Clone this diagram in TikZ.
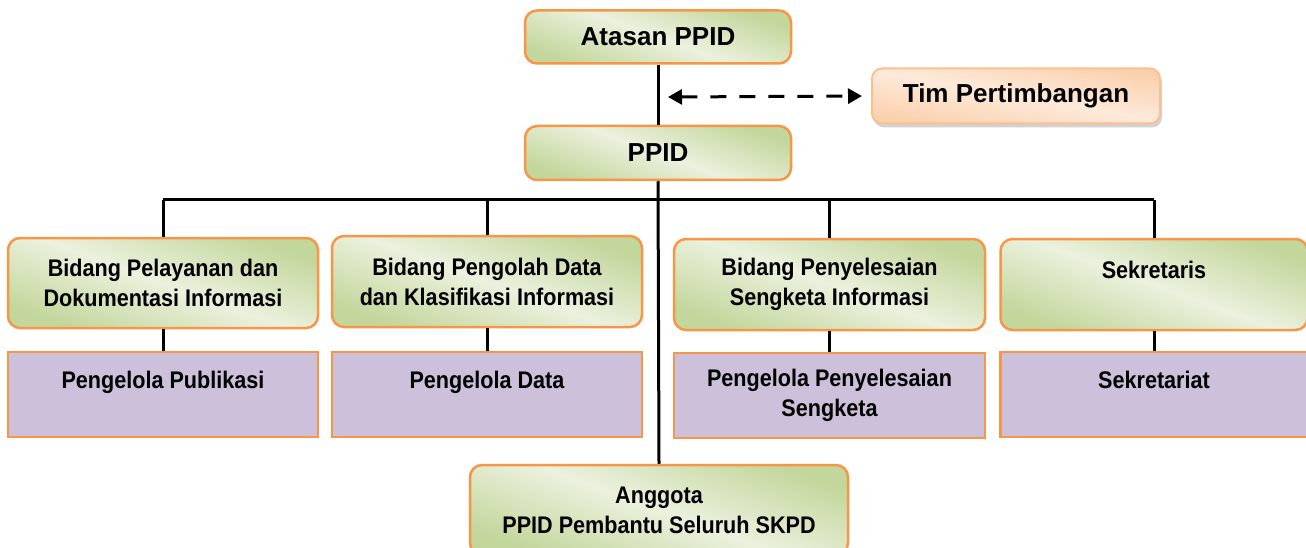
\documentclass[tikz,border=0pt]{standalone}
\usepackage{fontspec}
\setmainfont{Liberation Sans}
\newfontfamily\narrowsf{Liberation Sans}[FakeStretch=0.9]
\usetikzlibrary{arrows.meta, shadows, calc}

\definecolor{boxline}{HTML}{F79646}
\definecolor{gdark}{HTML}{C3D69B}
\definecolor{glight}{HTML}{EBF1DE}
\definecolor{lilac}{HTML}{CCC0DA}
\definecolor{peach}{HTML}{FBD0AC}
\definecolor{peachlight}{HTML}{FDEADA}
\definecolor{peachline}{HTML}{FAC090}

\tikzset{
  greenbox/.style={draw=boxline, line width=2.5pt, rounded corners=12pt,
    top color=gdark, bottom color=gdark, middle color=glight, shading angle=160,
    align=center, inner sep=0pt},
  topfont/.style={font=\bfseries\fontsize{26pt}{30pt}\selectfont},
  boxfont/.style={font=\narrowsf\bfseries\fontsize{24pt}{30pt}\selectfont},
  purplebox/.style={draw=boxline, line width=2.5pt, fill=lilac, align=center,
    inner sep=0pt, boxfont},
  timbox/.style={draw=peachline, line width=2pt, rounded corners=10pt,
    top color=peach, bottom color=peach, middle color=peachlight, shading angle=170,
    drop shadow={shadow xshift=2pt, shadow yshift=-4pt, fill=black!35},
    inner sep=0pt, topfont},
  link/.style={line width=3pt},
  dasharrow/.style={line width=3pt, dash pattern=on 16pt off 13pt,
    {Triangle[length=14pt, width=15pt]}-{Triangle[length=14pt, width=15pt]}}
}

\begin{document}
\begin{tikzpicture}[x=1pt, y=-1pt]
  \useasboundingbox (0,0) rectangle (1306,548);

  % top of the chart
  \node[greenbox, topfont, minimum width=266pt, minimum height=53pt] (atasan) at (658,37) {Atasan PPID};
  \node[greenbox, topfont, minimum width=266pt, minimum height=54pt] (ppid) at (658,153) {PPID};
  \node[timbox, minimum width=288pt, minimum height=55pt] (tim) at (1016,96) {Tim Pertimbangan};

  % bidang boxes
  \node[greenbox, boxfont, minimum width=310pt, minimum height=90pt] (bid1) at (163,283) {Bidang Pelayanan dan\\Dokumentasi Informasi};
  \node[greenbox, boxfont, minimum width=310pt, minimum height=91pt] (bid2) at (487,281.5) {Bidang Pengolah Data\\dan Klasifikasi Informasi};
  \node[greenbox, boxfont, minimum width=311pt, minimum height=91pt] (bid3) at (829.5,284.5) {Bidang Penyelesaian\\Sengketa Informasi};
  \node[greenbox, boxfont, minimum width=307pt, minimum height=91pt] (bid4) at (1154,284.5) {Sekretaris\\~};

  % pengelola boxes
  \node[purplebox, minimum width=310pt, minimum height=85pt] (peng1) at (163,394.5) {Pengelola Publikasi\\~};
  \node[purplebox, minimum width=310pt, minimum height=85pt] (peng2) at (487,394.5) {Pengelola Data\\~};
  \node[purplebox, minimum width=311pt, minimum height=85pt] (peng3) at (829.5,395.5) {Pengelola Penyelesaian\\Sengketa};
  \node[purplebox, minimum width=307pt, minimum height=85pt] (peng4) at (1154,394.5) {Sekretariat\\~};

  \node[greenbox, boxfont, minimum width=378pt, minimum height=90pt] (anggota) at (659,510) {Anggota\\PPID Pembantu Seluruh SKPD};

  % connectors
  \coordinate (bar) at (0,200);
  \coordinate (tipL) at (668,97);
  \draw[link] (atasan.south) -- (ppid.north);
  \draw[link] (ppid.south) -- (anggota.north);
  \draw[link] (bid1.north |- bar) -- (bid4.north |- bar);
  \foreach \i in {1,...,4}{
    \draw[link] (bid\i.north |- bar) -- (bid\i.north);
    \draw[link] (bid\i.south) -- (peng\i.north);
  }
  \draw[dasharrow, shorten >=9pt] (tipL) -- (tim.west);
\end{tikzpicture}
\end{document}
